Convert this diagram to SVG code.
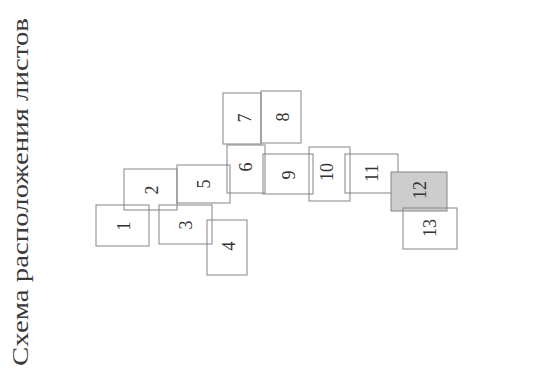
<svg xmlns="http://www.w3.org/2000/svg" width="541" height="372" viewBox="0 0 541 372">
<style>
.s{fill:#fff;fill-opacity:0;stroke:#858585;stroke-width:1}
.t{font-family:"Liberation Serif","Times New Roman",serif;font-size:18px;fill:#333;text-anchor:middle;dominant-baseline:central}
</style>
<rect width="541" height="372" fill="#fff"/>
<text transform="translate(28,366) rotate(-90)" font-family="'Liberation Serif','Times New Roman',serif" font-size="24" fill="#3a3a3a" textLength="348" lengthAdjust="spacingAndGlyphs">Схема расположения листов</text>
<g id="connectors"></g>
<g id="n1"><rect class="s" x="96" y="205" width="53" height="41"/><text class="t" transform="translate(124,226) rotate(-90)">1</text></g>
<g id="n2"><rect class="s" x="124" y="169" width="53" height="41"/><text class="t" transform="translate(152,190) rotate(-90)">2</text></g>
<g id="n3"><rect class="s" x="159" y="205" width="53" height="39"/><text class="t" transform="translate(186,225) rotate(-90)">3</text></g>
<g id="n4"><rect class="s" x="207" y="220" width="40" height="55"/><text class="t" transform="translate(229,246) rotate(-90)">4</text></g>
<g id="n5"><rect class="s" x="177" y="165" width="53" height="38"/><text class="t" transform="translate(204,184) rotate(-90)">5</text></g>
<g id="n6"><rect class="s" x="227" y="145" width="38" height="48"/><text class="t" transform="translate(246,167) rotate(-90)">6</text></g>
<g id="n7"><rect class="s" x="223" y="93" width="38" height="51"/><text class="t" transform="translate(245,118) rotate(-90)">7</text></g>
<g id="n8"><rect class="s" x="261" y="91" width="40" height="52"/><text class="t" transform="translate(283,117) rotate(-90)">8</text></g>
<g id="n9"><rect class="s" x="263" y="154" width="50" height="40"/><text class="t" transform="translate(289,175) rotate(-90)">9</text></g>
<g id="n10"><rect class="s" x="309" y="147" width="41" height="54"/><text class="t" transform="translate(327,172) rotate(-90)">10</text></g>
<g id="n11"><rect class="s" x="345" y="154" width="53" height="39"/><text class="t" transform="translate(372,173) rotate(-90)">11</text></g>
<g id="n12"><rect x="391" y="172" width="56" height="39" fill="#cdcdcd" stroke="#858585"/><text class="t" transform="translate(420,190) rotate(-90)">12</text></g>
<g id="n13"><rect class="s" x="403" y="208" width="54" height="41"/><text class="t" transform="translate(430,228) rotate(-90)">13</text></g>
</svg>
